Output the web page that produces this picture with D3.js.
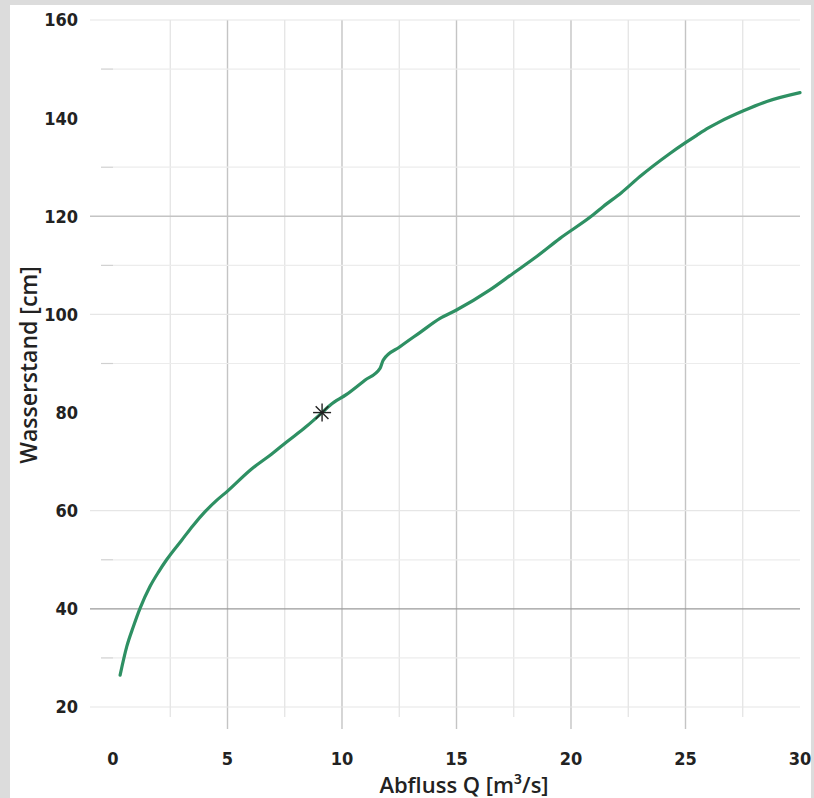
<!DOCTYPE html>
<html>
<head>
<meta charset="utf-8">
<script src="https://cdn.jsdelivr.net/npm/d3@7"></script>
<style>
  body { margin: 0; background: #dcdcdc; }
  svg { display: block; }
</style>
</head>
<body>
<svg id="chart" width="814" height="798"></svg>
<script>
// Abfluss Q [m³/s] vs Wasserstand [cm]
const abfluss = [0.31, 0.6, 0.89, 1.18, 1.62, 2.0, 2.34, 3.0, 3.5, 4.0, 4.5, 5.0, 6.0, 7.0, 7.58, 8.4, 9.13, 9.48, 10.2, 11.0, 11.66, 11.8, 12.53, 13.4, 14.28, 15.0, 16.46, 17.48, 18.5, 19.52, 20.97, 21.41, 22.2, 23.01, 24.32, 25.0, 25.49, 26.0, 26.51, 27.53, 28.55, 30.0];
const wasserstand = [26.5, 32.3, 36.4, 40.1, 44.6, 47.6, 50.0, 54.0, 57.0, 59.7, 62.0, 64.0, 68.3, 71.8, 74.0, 77.0, 80.0, 81.5, 83.7, 86.6, 89.0, 90.7, 93.4, 96.3, 99.2, 100.9, 105.0, 108.4, 111.8, 115.5, 120.3, 122.0, 124.8, 128.1, 132.8, 135.0, 136.5, 138.0, 139.3, 141.5, 143.4, 145.2];

// marked point (asterisk)
const markQ = [9.13];
const markH = [80];

const xTicks = [0, 5, 10, 15, 20, 25, 30];
const yTicks = [20, 40, 60, 80, 100, 120, 140, 160];
const xMajorGrid = [5, 10, 15, 20, 25];
const xMinorGrid = [2.5, 7.5, 12.5, 17.5, 22.5, 27.5];
const yLongGrid = [20, 60, 100, 160];     // light lines reaching to the labels
const yShortGrid = [30, 50, 90, 110, 130, 150]; // light lines with a small stub
const yDarkGrid = [40, 120];

const svg = d3.select("#chart");

// white panel
svg.append("rect").attr("x", 10).attr("y", 5).attr("width", 801).attr("height", 793).attr("fill", "#fff");

const x = d3.scaleLinear().domain([0, 30]).range([113, 800]);
const y = d3.scaleLinear().domain([20, 160]).range([707, 20]);

const grid = svg.append("g");

// vertical grid
grid.selectAll(".vmin").data(xMinorGrid).enter().append("line")
  .attr("x1", d => x(d)).attr("x2", d => x(d))
  .attr("y1", y(160)).attr("y2", 717)
  .attr("stroke", "#e2e2e2").attr("stroke-width", 1.2);

grid.selectAll(".vmaj").data(xMajorGrid).enter().append("line")
  .attr("x1", d => x(d)).attr("x2", d => x(d))
  .attr("y1", y(160)).attr("y2", 729)
  .attr("stroke", "#c4c4c4").attr("stroke-width", 1.4);

// horizontal grid
grid.selectAll(".hlong").data(yLongGrid).enter().append("line")
  .attr("x1", 90).attr("x2", 800)
  .attr("y1", d => y(d)).attr("y2", d => y(d))
  .attr("stroke", "#e6e6e6").attr("stroke-width", 1.2);

grid.selectAll(".hshort").data(yShortGrid).enter().append("line")
  .attr("x1", 113).attr("x2", 800)
  .attr("y1", d => y(d)).attr("y2", d => y(d))
  .attr("stroke", "#ececec").attr("stroke-width", 1.2);
grid.selectAll(".hstub").data(yShortGrid).enter().append("line")
  .attr("x1", 101).attr("x2", 113)
  .attr("y1", d => y(d)).attr("y2", d => y(d))
  .attr("stroke", "#d0d0d0").attr("stroke-width", 1.2);

grid.selectAll(".hdark").data(yDarkGrid).enter().append("line")
  .attr("x1", 90).attr("x2", 800)
  .attr("y1", d => y(d)).attr("y2", d => y(d))
  .attr("stroke", d => d == 40 ? "#9a9a9a" : "#c4c4c4").attr("stroke-width", 1.4);

// tick labels
const tickFont = "'DejaVu Sans Condensed', 'DejaVu Sans', sans-serif";
svg.append("g").selectAll("text").data(yTicks).enter().append("text")
  .attr("x", 78).attr("y", d => y(d)).attr("dy", "0.36em")
  .attr("text-anchor", "end")
  .attr("font-family", tickFont).attr("font-weight", "bold").attr("font-size", 18)
  .attr("fill", "#222").text(d => d);

svg.append("g").selectAll("text").data(xTicks).enter().append("text")
  .attr("x", d => x(d)).attr("y", 765)
  .attr("text-anchor", "middle")
  .attr("font-family", tickFont).attr("font-weight", "bold").attr("font-size", 18)
  .attr("fill", "#222").text(d => d);

// axis titles
svg.append("text")
  .attr("x", 464).attr("y", 793).attr("text-anchor", "middle")
  .attr("font-family", "'Open Sans', sans-serif").attr("font-weight", 600).attr("font-size", 22)
  .attr("fill", "#222").text("Abfluss Q [m³/s]");

svg.append("text")
  .attr("transform", "translate(37,365) rotate(-90)").attr("text-anchor", "middle")
  .attr("font-family", "'Open Sans', sans-serif").attr("font-weight", 600).attr("font-size", 23)
  .attr("fill", "#222").text("Wasserstand [cm]");

// curve
const pts = abfluss.map((q, i) => [q, wasserstand[i]]);
const line = d3.line().x(d => x(d[0])).y(d => y(d[1])).curve(d3.curveMonotoneX);
svg.append("path").datum(pts)
  .attr("d", line)
  .attr("fill", "none").attr("stroke", "#2e9063").attr("stroke-width", 3.2)
  .attr("stroke-linecap", "round").attr("stroke-linejoin", "round");

// asterisk marker
const r = 9;
markQ.forEach((q, i) => {
  const cx = x(q), cy = y(markH[i]);
  const arms = [0, 45, 90, 135];
  svg.append("g").selectAll("line").data(arms).enter().append("line")
    .attr("x1", a => cx - r * Math.cos(a * Math.PI / 180))
    .attr("y1", a => cy - r * Math.sin(a * Math.PI / 180))
    .attr("x2", a => cx + r * Math.cos(a * Math.PI / 180))
    .attr("y2", a => cy + r * Math.sin(a * Math.PI / 180))
    .attr("stroke", "#222").attr("stroke-width", 1.4);
});
</script>
</body>
</html>
